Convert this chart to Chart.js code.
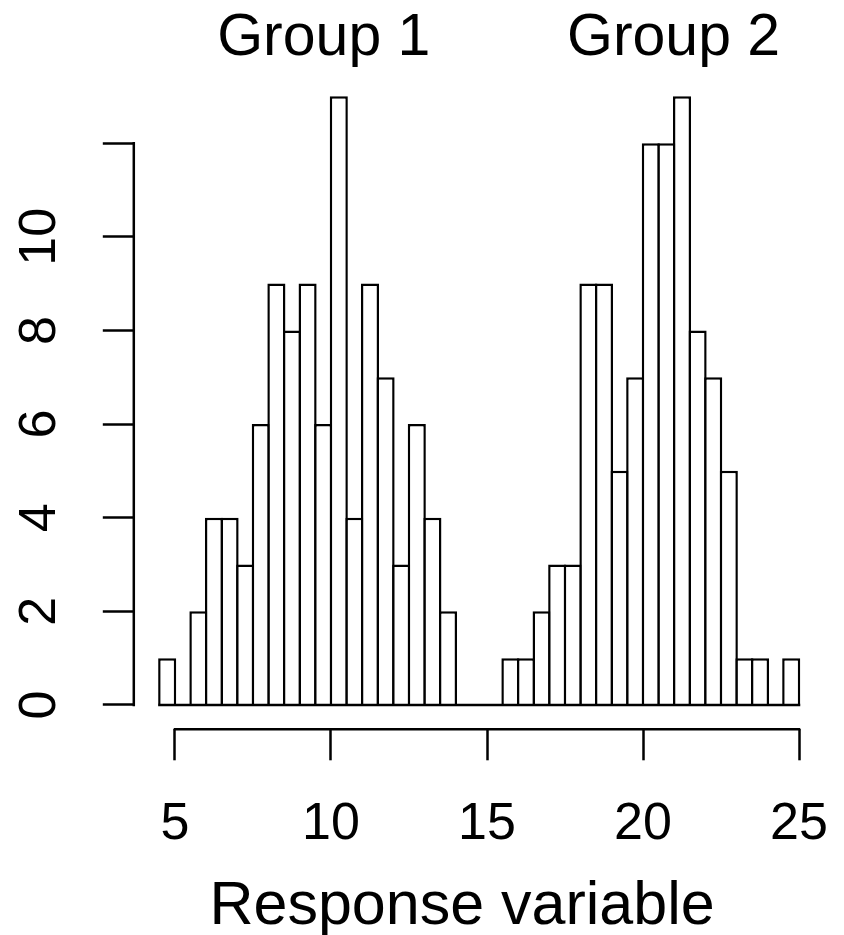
<!DOCTYPE html>
<html>
<head>
<meta charset="utf-8">
<script src="https://cdn.jsdelivr.net/npm/chart.js@4"></script>
<style>
    html, body { margin: 0; padding: 0; background: #fff; }
    #wrap { width: 844px; height: 935px; position: relative; }
</style>
</head>
<body>
<div id="wrap"><canvas id="histChart"></canvas></div>
<script>
// histogram bins (left edges), width 0.5
const binLeft = [4.5, 5, 5.5, 6, 6.5, 7, 7.5, 8, 8.5, 9, 9.5, 10, 10.5, 11, 11.5, 12, 12.5, 13, 13.5, 14,
    14.5, 15, 15.5, 16, 16.5, 17, 17.5, 18, 18.5, 19, 19.5, 20, 20.5, 21, 21.5, 22, 22.5, 23, 23.5, 24, 24.5];
const binWidth = 0.5;
const counts = [1, 0, 2, 4, 4, 3, 6, 9, 8, 9, 6, 13, 4, 9, 7, 3, 6, 4, 2, 0,
    0, 0, 1, 1, 2, 3, 3, 9, 9, 5, 7, 12, 12, 13, 8, 7, 5, 1, 1, 0, 1];

const xTickValues = [5, 10, 15, 20, 25];
const xTickLabels = ['5', '10', '15', '20', '25'];
const yTickValues = [0, 2, 4, 6, 8, 10, 12];
const yTickLabels = ['0', '2', '4', '6', '8', '10', ''];

const groupTitles = ['Group 1', 'Group 2'];
const groupTitleX = [9.77, 20.98];
const xLabel = 'Response variable';
const xLabelX = 14.2;

// R-style padded ranges (4% each side)
const xRange = [3.68, 25.82];
const yRange = [-0.52, 13.52];

const FONT = "'Liberation Sans', Arial, Helvetica, sans-serif";
const LINE_W = 2.5;
Chart.defaults.font.family = FONT;
Chart.defaults.color = '#000';

const barData = binLeft.map((b, i) => ({ x: b + binWidth / 2, y: counts[i] }));
const baseData = [
    { x: binLeft[0], y: 0 },
    { x: binLeft[binLeft.length - 1] + binWidth, y: 0 }
];

// draws the R-style axis lines (only between first and last tick) and texts
const rAxesPlugin = {
    id: 'rAxes',
    afterDraw(chart) {
        const ctx = chart.ctx;
        const xs = chart.scales.x;
        const ys = chart.scales.y;
        const area = chart.chartArea;
        ctx.save();
        ctx.strokeStyle = '#000';
        ctx.lineWidth = LINE_W;
        ctx.lineCap = 'square';
        ctx.beginPath();
        ctx.moveTo(xs.getPixelForValue(xTickValues[0]), area.bottom);
        ctx.lineTo(xs.getPixelForValue(xTickValues[xTickValues.length - 1]), area.bottom);
        ctx.moveTo(area.left, ys.getPixelForValue(yTickValues[0]));
        ctx.lineTo(area.left, ys.getPixelForValue(yTickValues[yTickValues.length - 1]));
        ctx.stroke();

        ctx.fillStyle = '#000';
        ctx.textAlign = 'center';
        ctx.textBaseline = 'alphabetic';
        ctx.font = '59px ' + FONT;
        groupTitles.forEach((t, i) => {
            ctx.fillText(t, xs.getPixelForValue(groupTitleX[i]), area.top - 17);
        });
        ctx.font = '61px ' + FONT;
        ctx.fillText(xLabel, xs.getPixelForValue(xLabelX), chart.height - 11);
        ctx.restore();
    }
};

const noEdgePadding = (scale) => {
    scale.paddingLeft = 0;
    scale.paddingRight = 0;
    scale.paddingTop = 0;
    scale.paddingBottom = 0;
};

const ctx = document.getElementById('histChart').getContext('2d');
new Chart(ctx, {
    type: 'bar',
    data: {
        datasets: [
            {
                type: 'line',
                data: baseData,
                borderColor: '#000',
                borderWidth: LINE_W,
                borderCapStyle: 'square',
                pointRadius: 0,
                fill: false,
                order: 0
            },
            {
                type: 'bar',
                data: barData,
                backgroundColor: '#fff',
                borderColor: '#000',
                borderWidth: LINE_W,
                borderSkipped: 'bottom',
                categoryPercentage: 1,
                barPercentage: 1.16,
                order: 1
            }
        ]
    },
    options: {
        responsive: true,
        maintainAspectRatio: false,
        animation: false,
        layout: { padding: { top: 72, right: 19.4, left: 0, bottom: 0 } },
        plugins: {
            legend: { display: false },
            tooltip: { enabled: false },
            title: { display: false }
        },
        scales: {
            x: {
                type: 'linear',
                offset: false,
                min: xRange[0],
                max: xRange[1],
                border: { display: false },
                grid: {
                    offset: false,
                    drawOnChartArea: false,
                    drawTicks: true,
                    tickLength: 31,
                    tickWidth: LINE_W,
                    tickColor: '#000'
                },
                ticks: {
                    font: { size: 52 },
                    color: '#000',
                    padding: 33,
                    maxRotation: 0,
                    minRotation: 0,
                    autoSkip: false,
                    callback: (value) => {
                        const i = xTickValues.indexOf(value);
                        return i >= 0 ? xTickLabels[i] : '';
                    }
                },
                afterBuildTicks: (scale) => {
                    scale.ticks = xTickValues.map(v => ({ value: v }));
                },
                afterFit: (scale) => {
                    scale.height = 205.7;
                    noEdgePadding(scale);
                }
            },
            y: {
                type: 'linear',
                min: yRange[0],
                max: yRange[1],
                border: { display: false },
                grid: {
                    drawOnChartArea: false,
                    drawTicks: true,
                    tickLength: 31,
                    tickWidth: LINE_W,
                    tickColor: '#000'
                },
                ticks: {
                    font: { size: 52 },
                    color: '#000',
                    padding: 33,
                    minRotation: 90,
                    maxRotation: 90,
                    crossAlign: 'center',
                    autoSkip: false,
                    callback: (value) => {
                        const i = yTickValues.indexOf(value);
                        return i >= 0 ? yTickLabels[i] : '';
                    }
                },
                afterBuildTicks: (scale) => {
                    scale.ticks = yTickValues.map(v => ({ value: v }));
                },
                afterFit: (scale) => {
                    scale.width = 133.8;
                    noEdgePadding(scale);
                }
            }
        }
    },
    plugins: [rAxesPlugin]
});
</script>
</body>
</html>
